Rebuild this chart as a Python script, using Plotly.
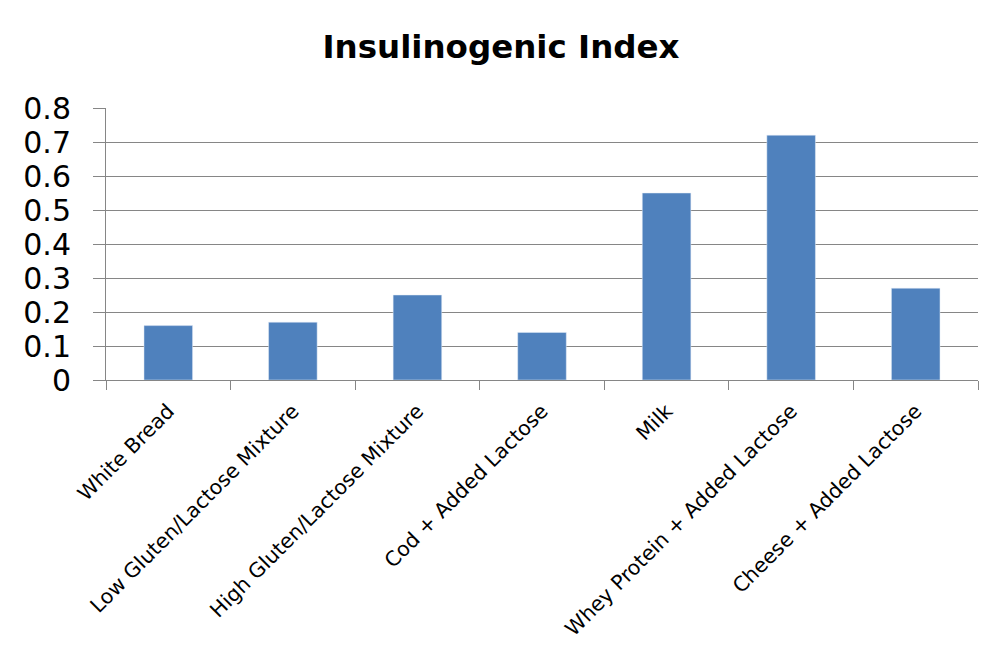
import plotly.graph_objects as go

categories = ["White Bread", "Low Gluten/Lactose Mixture", "High Gluten/Lactose Mixture",
              "Cod + Added Lactose", "Milk", "Whey Protein + Added Lactose", "Cheese + Added Lactose"]
values = [0.16, 0.17, 0.25, 0.14, 0.55, 0.72, 0.27]
y_ticks = [0, 0.1, 0.2, 0.3, 0.4, 0.5, 0.6, 0.7, 0.8]
y_labels = ["0", "0.1", "0.2", "0.3", "0.4", "0.5", "0.6", "0.7", "0.8"]

FONT = "DejaVu Sans, sans-serif"

fig = go.Figure(go.Bar(x=categories, y=values, marker_color="#4F81BD", width=0.39))

fig.update_layout(
    width=1002, height=669,
    margin=dict(l=106, r=24, t=108, b=289),
    paper_bgcolor="white", plot_bgcolor="white",
    font=dict(family=FONT, color="black"),
    title=dict(text="<b>Insulinogenic Index</b>", x=0.5, xanchor="center",
               y=1 - 47/669, yanchor="middle", font=dict(size=32.5, family=FONT)),
    showlegend=False,
)
fig.update_yaxes(range=[0, 0.8], tickvals=y_ticks, ticktext=y_labels,
                 showgrid=True, gridcolor="#868686", gridwidth=1,
                 showline=True, linecolor="#868686", linewidth=1,
                 ticks="outside", ticklen=12, tickcolor="#868686",
                 ticklabelstandoff=16,
                 tickfont=dict(size=30), zeroline=False)
fig.update_xaxes(type="category", tickson="boundaries", ticks="outside", ticklen=9,
                 tickcolor="#868686", showline=True, linecolor="#868686", linewidth=1,
                 tickangle=-45, ticklabelstandoff=10, tickfont=dict(size=20.5))

fig.write_html("out.html")
